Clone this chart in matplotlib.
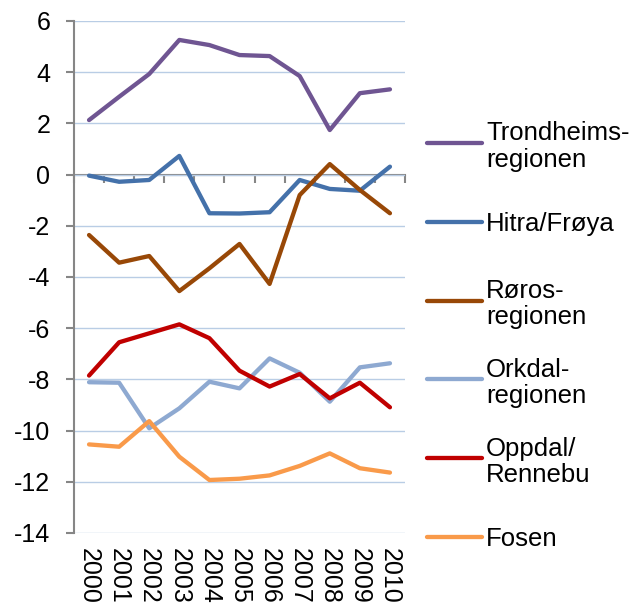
import matplotlib
matplotlib.use("Agg")
import matplotlib.pyplot as plt
from matplotlib.lines import Line2D
import numpy as np

plt.rcParams['font.family'] = ['Liberation Sans', 'DejaVu Sans']

years = ['2000', '2001', '2002', '2003', '2004', '2005', '2006', '2007', '2008', '2009', '2010']

trondheim = [2.13, 3.04, 3.93, 5.26, 5.06, 4.67, 4.63, 3.85, 1.74, 3.18, 3.33]
hitra = [-0.04, -0.28, -0.21, 0.73, -1.51, -1.52, -1.47, -0.21, -0.56, -0.63, 0.31]
roros = [-2.36, -3.44, -3.18, -4.55, -3.66, -2.71, -4.27, -0.80, 0.41, -0.60, -1.51]
orkdal = [-8.11, -8.13, -9.91, -9.13, -8.09, -8.35, -7.18, -7.74, -8.87, -7.53, -7.37]
oppdal = [-7.85, -6.55, -6.20, -5.85, -6.39, -7.66, -8.28, -7.79, -8.74, -8.13, -9.09]
fosen = [-10.54, -10.63, -9.63, -11.02, -11.93, -11.88, -11.75, -11.38, -10.89, -11.47, -11.64]

labels = ['Trondheims-\nregionen', 'Hitra/Frøya', 'Røros-\nregionen',
          'Orkdal-\nregionen', 'Oppdal/\nRennebu', 'Fosen']
series = [trondheim, hitra, roros, orkdal, oppdal, fosen]
colors = ['#6F5592', '#4471AA', '#984807', '#8EA9D1', '#C00000', '#F99A4A']

yticks = list(range(-14, 7, 2))

fig = plt.figure(figsize=(6.37, 6.06), dpi=100)
ax = fig.add_axes([74/637, 1-533/606, (405-74)/637, (533-21)/606])

x = np.arange(len(years))
for s, c in zip(series, colors):
    ax.plot(x, s, color=c, lw=3.1, solid_joinstyle='round', solid_capstyle='round', zorder=3)

ax.set_xlim(-0.5, len(years) - 0.5)
ax.set_ylim(-14, 6)
ax.set_yticks(yticks)
ax.set_yticklabels([str(v) for v in yticks])
ax.yaxis.grid(True, color='#B9CDE5', lw=1.0)
ax.set_axisbelow(True)

for sp in ['top', 'right', 'bottom']:
    ax.spines[sp].set_visible(False)
ax.spines['left'].set_color('#868686')
ax.spines['left'].set_linewidth(1.5)
ax.tick_params(axis='y', direction='out', length=6, width=1.5, color='#868686',
               labelsize=18, pad=11)

ax.set_xticks(x)
ax.set_xticklabels(years, rotation=-90, fontsize=18)
ax.tick_params(axis='x', length=0, pad=11)
for t in ax.get_xticklabels():
    t.set_va('top')
    t.set_ha('center')

# category axis crossing at zero
sec = ax.secondary_xaxis(0, transform=ax.transData)
sec.spines['bottom'].set_color('#868686')
sec.spines['bottom'].set_linewidth(1.5)
sec.set_xticks(np.arange(-0.5, len(years), 1.0))
sec.set_xticklabels([])
sec.tick_params(axis='x', direction='out', length=6, width=1.5, color='#868686')

# legend
leg_y0 = 1 - 143/606
step = 78.8/606
x0, x1, xt = 427/637, 482/637, 486/637
for i, (lab, c) in enumerate(zip(labels, colors)):
    yy = leg_y0 - i*step
    fig.add_artist(Line2D([x0, x1], [yy, yy], transform=fig.transFigure,
                          color=c, lw=3.1, solid_capstyle='round'))
    fig.text(xt, yy, lab, fontsize=18.5, va='center_baseline', ha='left',
             linespacing=1.12)

fig.savefig('out.png', dpi=100)
